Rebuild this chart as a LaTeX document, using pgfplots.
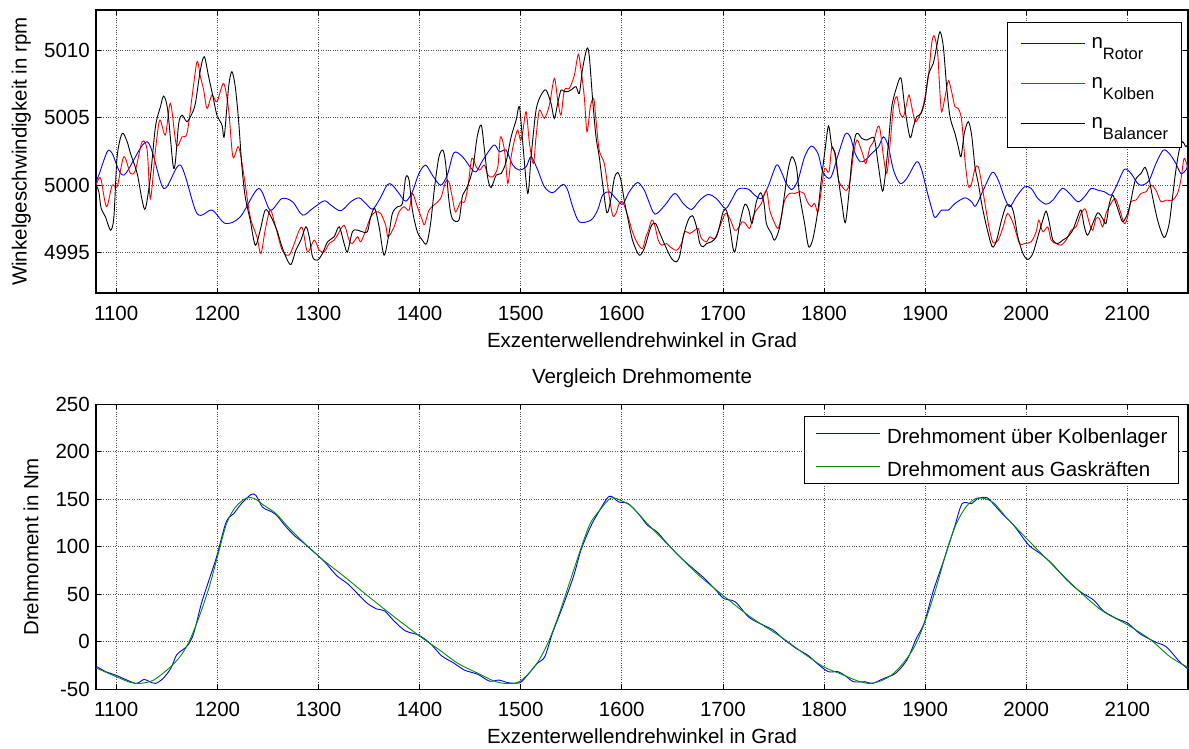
\documentclass[border=0pt]{standalone}
\usepackage{fontspec}
\setmainfont{Liberation Sans}
\usepackage{pgfplots}
\pgfplotsset{compat=1.18}
\definecolor{mblue}{rgb}{0,0,1}
\definecolor{mred}{rgb}{1,0,0}
\definecolor{mgreen}{rgb}{0,0.55,0}
\newcommand{\mf}{\fontsize{20.5bp}{24bp}\selectfont}
\newcommand{\sub}[1]{\raisebox{-11bp}{\fontsize{16.5bp}{18bp}\selectfont #1}}
\pgfplotsset{
  mstyle/.style={
    scale only axis, width=1092bp,
    xmin=1080, xmax=2160,
    xtick={1100,1200,...,2100},
    tick align=inside, tick pos=both, major tick length=5bp,
    grid=major,
    grid style={dotted, black!70, line width=0.7bp},
    axis line style={line width=1.3bp},
    every tick/.style={black, line width=0.8bp},
    tick label style={font=\mf, inner sep=0pt},
    label style={font=\mf, inner sep=0pt},
    title style={font=\mf, inner sep=0pt},
    /pgf/number format/assume math mode=true,
    /pgf/number format/1000 sep={},
    xticklabel style={anchor=base, yshift=-27.7bp},
    yticklabel style={anchor=east, xshift=-6bp},
    legend cell align=left,
    legend image code/.code={},
  },
}
\begin{document}
\begin{tikzpicture}
\useasboundingbox (0,0) rectangle (1189bp,749bp);
\begin{axis}[mstyle,
  at={(96bp,456bp)}, anchor=south west, height=283bp,
  ymin=4992, ymax=5013, ytick={4995,5000,5005,5010},
  xlabel={Exzenterwellendrehwinkel in Grad},
  xlabel style={at={(axis description cs:0.5,-0.19187)}, anchor=base},
  ylabel={Winkelgeschwindigkeit in rpm},
  ylabel style={at={(axis description cs:-0.06346,0.5)}, anchor=base, rotate=0},
  legend style={at={(axis description cs:0.99423,0.95866)}, anchor=north east,
    draw=black, line width=1.2bp, fill=white, inner xsep=13bp, inner ysep=6.6bp,
    row sep=8.2bp, column sep=0pt, font=\mf,
    nodes={inner sep=0pt, text height=20bp, text depth=11.8bp}},
]
\addplot[color=mblue, line width=0.9bp, smooth, tension=0.5] coordinates {
(1080,5000.3) (1082.8,5000.75) (1091.1,5002.48) (1096.0,5002.36) (1107.5,5000.75)
(1130.6,5003.22) (1147.0,4999.76) (1163.5,5001.49) (1179.9,4997.90) (1194.7,4998.15)
(1207.9,4997.16) (1222.7,4997.65) (1240.8,4999.76) (1252.3,4998.15) (1263.8,4999.01)
(1274.4,4998.77) (1284.3,4997.78) (1294.2,4998.27) (1305.7,4998.84)
(1312.3,4998.52) (1322.1,4998.10) (1332.0,4998.77) (1340.2,4999.06) (1346.8,4998.64)
(1353.4,4998.22) (1360.0,4998.89) (1368.2,5000.05) (1373.1,5000.00) (1379.7,4999.39)
(1386.3,4998.81) (1392.9,4999.51) (1399.4,5000.87) (1406.0,5001.49) (1412.6,5000.75)
(1420.8,5000.00) (1427.4,5000.75) (1434.0,5002.41) (1442.5,5002.11)
(1451.1,5001.24) (1456.0,5000.99) (1462.6,5001.86) (1473.5,5002.98) (1479.0,5002.48)
(1485.6,5002.60) (1492.2,5001.49) (1498.8,5001.12) (1505.4,5001.37) (1510.3,5002.11)
(1516.9,5001.12) (1523.5,4999.88) (1531.7,4999.44) (1541.6,5000.05) (1546.5,4999.63)
(1551.4,4998.40) (1558.0,4997.28) (1569.5,4997.41) (1576.1,4998.15) (1581.0,4999.26)
(1587.6,4999.51) (1594.2,4999.01) (1600.8,4998.59) (1607.4,4999.51) (1615.6,5000.20)
(1622.2,4999.63) (1626.2,4998.89) (1632.8,4997.85) (1642.7,4998.52) (1652.5,4999.39)
(1660.7,4998.64) (1669.0,4998.20) (1677.2,4998.89) (1685.4,4999.31) (1693.6,4999.01)
(1702.5,4998.27) (1708.5,4998.89) (1715.0,4999.71) (1724.9,4999.71) (1731.5,4999.26)
(1738.1,4999.01) (1744.6,4999.88) (1752.9,5001.49) (1757.8,5000.99) (1762.7,5000.13)
(1768.3,4999.68) (1774.3,5000.38) (1780.8,5002.11) (1787.4,5002.90) (1794.0,5002.36)
(1798.9,5000.99) (1806.5,5000.55) (1814.4,5002.36) (1821.0,5003.79)
(1825.9,5003.59) (1830.8,5002.36) (1835.8,5001.74) (1840.7,5001.86) (1847.3,5002.36)
(1853.9,5002.85) (1858.8,5003.59) (1863.7,5002.85) (1868.7,5001.12) (1875.2,5000.13)
(1881.8,5000.50) (1891.7,5001.74) (1896.6,5001.12) (1901.6,4999.63) (1906.5,4998.27)
(1909.8,4997.60) (1916.4,4998.15) (1923.0,4998.15) (1929.5,4998.64) (1939.4,4999.06)
(1946.0,4998.77) (1949.9,4998.45) (1957.5,4999.63) (1966.4,5000.95) (1972.3,5000.38)
(1978.9,4999.01) (1983.8,4998.40) (1990.1,4999.13) (1998.3,4999.88) (2004.9,4999.76)
(2011.5,4999.01) (2019.7,4998.59) (2026.3,4998.89) (2035.5,4999.76) (2042.7,4999.39)
(2051.0,4998.77) (2057.5,4999.13) (2064.1,4999.76) (2070.7,4999.63) (2077.3,4999.51)
(2083.8,4999.26) (2088.8,4999.88) (2097.0,5001.17) (2103.6,5000.87) (2110.2,5000.13)
(2115.1,5000.00) (2121.7,5000.38) (2128.3,5001.61) (2135.5,5002.60) (2141.4,5002.36)
(2148.0,5001.61) (2152.9,5000.87) (2157.9,5001.12) (2160.2,5001.61)
};
\addlegendentry{\hspace*{71bp}n\sub{Rotor}}
\addplot[color=mred, line width=0.9bp, smooth, tension=0.5] coordinates {
(1080,5000.0) (1082.8,5000.50) (1085.1,5000.38) (1090.4,4998.40) (1096.0,5000.00)
(1100.9,4999.88) (1107.5,5002.11) (1114.1,5000.87) (1119.0,5001.12) (1125.6,5003.22)
(1130.6,5002.60) (1133.8,4999.01) (1138.8,5002.60) (1143.1,5004.83) (1148.6,5003.72)
(1153.6,5006.07) (1159.5,5002.98) (1165.1,5003.59) (1170.0,5003.84) (1175.0,5006.56)
(1179.9,5009.16) (1183.2,5008.05) (1186.5,5007.06) (1189.8,5005.70) (1194.7,5006.69)
(1199.6,5006.19) (1206.2,5007.55) (1211.2,5005.57) (1215.4,5002.11) (1221.0,5002.85)
(1226.0,5000.87) (1232.5,4997.65) (1239.1,4996.17) (1243.1,4994.93) (1247.3,4996.66)
(1252.3,4998.15) (1257.2,4997.03) (1262.9,4995.43) (1266.2,4994.93) (1271.1,4994.81)
(1276.1,4995.67) (1281.0,4996.66) (1284.3,4996.79) (1289.2,4995.05) (1295.8,4995.92)
(1300.7,4995.18) (1305.7,4995.05) (1310.6,4995.67) (1315.5,4995.92) (1318.8,4996.29)
(1325.4,4997.03) (1330.3,4995.92) (1333.6,4995.67) (1338.6,4996.17) (1341.9,4995.80)
(1346.8,4996.66) (1351.7,4997.65) (1356.7,4998.02) (1361.6,4997.90) (1366.5,4997.03)
(1368.8,4996.17) (1374.8,4996.91) (1379.7,4998.02) (1384.6,4998.40) (1389.6,4998.15)
(1392.9,4999.39) (1397.8,4998.40) (1402.7,4997.41) (1405.0,4997.08) (1409.3,4998.15)
(1414.2,4998.52) (1420.8,4999.01) (1425.8,5000.25) (1429.0,5000.25) (1432.3,4999.13)
(1435.6,4998.02) (1440.6,4998.77) (1444.5,4998.77) (1447.8,4999.88) (1451.7,5001.99)
(1456.0,5001.37) (1459.3,5001.12) (1464.2,5001.49) (1467.5,5000.75) (1472.5,5000.62)
(1477.4,5001.37) (1480.0,5003.59) (1484.0,5002.60) (1487.3,5000.13) (1490.6,5002.11)
(1493.9,5003.35) (1497.1,5004.09) (1499.8,5003.35) (1502.1,5003.97) (1505.4,5005.45)
(1508.7,5003.10) (1512.6,5001.61) (1515.2,5003.59) (1518.5,5005.57) (1523.5,5004.96)
(1528.4,5005.95) (1533.3,5007.93) (1536.6,5006.32) (1539.9,5005.20) (1543.2,5007.06)
(1548.1,5007.18) (1553.1,5008.17) (1557.0,5009.71) (1559.7,5008.54) (1562.9,5006.56)
(1565.6,5003.97) (1568.9,5005.82) (1572.2,5006.44) (1574.5,5004.83) (1577.7,5002.60)
(1582.7,5001.61) (1586.6,4999.63) (1590.9,4997.78) (1594.2,4997.90) (1597.5,4998.64)
(1600.8,4998.77) (1605.7,4997.78) (1610.6,4996.54) (1615.6,4995.67) (1620.5,4995.30)
(1623.8,4996.17) (1626.2,4996.6) (1629.5,4997.41) (1632.1,4997.16) (1636.1,4995.92)
(1639.4,4995.55) (1644.3,4995.67) (1647.6,4995.43) (1654.2,4995.18) (1659.1,4995.67)
(1662.4,4996.54) (1667.3,4996.42) (1672.3,4996.66) (1675.6,4996.79) (1678.8,4996.04)
(1683.8,4995.80) (1687.1,4996.17) (1692.0,4996.04) (1696.9,4996.91) (1702.5,4997.90)
(1706.8,4997.53) (1711.7,4996.66) (1715.0,4996.79) (1719.0,4997.28) (1722.3,4997.16)
(1726.5,4996.79) (1729.8,4997.65) (1733.1,4998.15) (1738.1,4998.64) (1743.0,4999.63)
(1746.3,4998.15) (1750.6,4997.28) (1754.5,4996.79) (1757.8,4997.65) (1761.1,4998.89)
(1766.0,4999.39) (1771.0,4999.39) (1775.9,4999.51) (1780.2,4999.39) (1783.5,4998.77)
(1787.4,4998.40) (1790.7,4998.64) (1794.0,4998.02) (1797.3,4999.63) (1800.6,5001.24)
(1804.9,5000.99) (1807.8,5002.85) (1811.1,5002.11) (1814.4,5000.38) (1819.3,4999.76)
(1822.6,4999.63) (1825.9,5000.38) (1829.2,5002.36) (1832.5,5003.35) (1835.8,5002.85)
(1839.1,5002.11) (1841.4,5001.61) (1845.6,5002.85) (1848.9,5003.22) (1853.2,5004.34)
(1855.5,5004.09) (1858.8,5002.11) (1862.1,5000.87) (1865.4,5003.10) (1868.7,5005.82)
(1872.0,5006.56) (1875.2,5005.33) (1878.5,5005.08) (1881.8,5006.07) (1884.1,5006.69)
(1886.8,5005.82) (1890.1,5004.71) (1894.0,5005.08) (1898.3,5005.95) (1903.2,5008.05)
(1906.5,5010.52) (1909.1,5011.07) (1912.4,5009.78) (1914.7,5006.81) (1916.4,5005.45)
(1919.7,5006.56) (1923.0,5007.75) (1926.2,5006.94) (1929.5,5005.82) (1932.8,5005.70)
(1936.1,5004.83) (1939.4,5001.86) (1942.7,4999.93) (1946.0,5000.13) (1949.3,5001.24)
(1952.6,5001.37) (1955.9,5000.13) (1960.8,4997.90) (1964.1,4996.54) (1967.4,4995.72)
(1972.3,4995.92) (1977.2,4996.91) (1981.5,4997.90) (1987.1,4997.16) (1993.4,4995.67)
(1998.3,4995.67) (2004.9,4995.80) (2009.8,4996.54) (2012.5,4997.41) (2016.4,4996.54)
(2021.3,4996.91) (2024.6,4995.92) (2029.6,4995.67) (2034.5,4995.55) (2039.4,4995.92)
(2044.4,4996.66) (2049.3,4996.91) (2054.2,4997.90) (2058.5,4998.22) (2062.5,4997.16)
(2065.8,4996.66) (2069.0,4997.53) (2072.3,4997.53) (2075.6,4996.91) (2078.9,4997.90)
(2083.8,4998.64) (2088.1,4999.01) (2092.1,4998.27) (2097.0,4997.16) (2100.3,4997.65)
(2103.6,4998.77) (2108.5,4998.89) (2113.5,4999.39) (2118.4,4999.51) (2123.3,5000.00)
(2128.3,4999.63) (2133.2,4998.77) (2138.1,4998.89) (2144.7,4998.89) (2149.6,4999.39)
(2152.9,5000.38) (2156.2,5001.99) (2160.2,5001.12)
};
\addlegendentry{\hspace*{71bp}n\sub{Kolben}}
\addplot[color=black, line width=0.9bp, smooth, tension=0.5] coordinates {
(1080,5000.0) (1082.8,4999.51) (1085.1,4998.27) (1089.4,4997.65) (1094.4,4996.66)
(1097.7,4997.65) (1100.9,5002.11) (1105.9,5003.84) (1110.8,5003.22) (1114.1,5002.36)
(1120.7,5000.87) (1125.6,4998.89) (1128.9,4998.27) (1133.8,5000.62) (1138.8,5004.34)
(1143.7,5005.82) (1147.0,5006.61) (1150.9,5005.57) (1156.2,5001.49) (1158.5,5001.74)
(1161.8,5004.58) (1165.1,5005.20) (1170.0,5004.71) (1175.0,5005.33) (1178.3,5006.07)
(1183.2,5008.54) (1187.1,5009.53) (1191.4,5008.05) (1196.4,5006.32) (1199.6,5005.20)
(1204.6,5004.46) (1206.9,5003.64) (1211.2,5007.31) (1214.4,5008.42) (1217.7,5007.31)
(1221.0,5004.83) (1224.3,5001.37) (1227.6,4999.13) (1232.5,4997.41) (1237.5,4995.55)
(1242.4,4996.66) (1247.3,4998.15) (1252.3,4997.78) (1258.9,4996.66) (1262.9,4995.67)
(1267.8,4994.68) (1272.8,4994.11) (1277.7,4995.18) (1282.6,4995.92) (1287.6,4996.91)
(1290.9,4996.17) (1294.2,4994.68) (1299.1,4994.44) (1304.0,4994.93) (1309.0,4995.80)
(1315.5,4996.17) (1320.5,4996.91) (1325.4,4995.67) (1328.7,4995.05) (1333.6,4996.54)
(1338.6,4996.66) (1343.5,4996.54) (1348.4,4996.54) (1351.7,4997.65) (1355.7,4998.27)
(1360.0,4996.91) (1364.9,4994.81) (1369.8,4996.42) (1373.1,4997.90) (1378.1,4998.40)
(1383.0,4998.64) (1386.3,5000.57) (1389.6,5000.38) (1392.9,4998.15) (1397.8,4996.54)
(1402.7,4995.92) (1407.0,4995.67) (1410.9,4997.16) (1414.9,4999.88) (1419.2,5002.11)
(1423.1,5002.60) (1425.8,5001.61) (1429.0,4998.89) (1432.3,4997.53) (1438.9,4997.41)
(1442.2,4999.13) (1444.5,4999.51) (1447.8,5000.00) (1452.7,5001.24) (1457.0,5003.59)
(1461.0,5004.46) (1464.2,5002.60) (1467.5,5000.50) (1470.8,4999.83) (1475.8,5000.75)
(1480.7,5000.87) (1485.6,5001.74) (1490.6,5003.59) (1495.5,5004.83) (1498.8,5005.82)
(1502.1,5003.10) (1507.0,4999.39) (1510.3,5002.11) (1515.2,5005.57) (1520.2,5006.69)
(1525.1,5007.06) (1530.0,5006.07) (1533.3,5004.96) (1536.6,5006.07) (1539.9,5007.06)
(1543.2,5006.94) (1546.5,5006.94) (1549.8,5007.06) (1554.7,5007.31) (1558.0,5006.81)
(1561.3,5008.67) (1565.6,5010.15) (1567.9,5009.53) (1571.2,5006.32) (1574.5,5003.59)
(1577.7,5002.11) (1581.0,5000.13) (1585.3,4997.95) (1589.3,4999.01) (1592.6,5000.50)
(1595.8,5000.95) (1599.1,5000.38) (1602.4,4998.89) (1605.7,4997.65) (1610.6,4995.92)
(1617.2,4994.81) (1622.2,4995.30) (1626.2,4996.29) (1629.5,4997.03) (1633.4,4997.16)
(1637.7,4996.42) (1642.7,4995.55) (1649.2,4994.56) (1654.2,4994.31) (1657.5,4994.81)
(1660.7,4996.17) (1665.7,4997.41) (1670.0,4997.73) (1673.9,4996.91) (1677.2,4995.67)
(1680.5,4995.43) (1683.8,4995.67) (1688.7,4995.80) (1693.6,4996.17) (1696.9,4997.03)
(1700.2,4998.02) (1703.5,4998.15) (1706.8,4996.91) (1710.1,4995.30) (1712.4,4995.18)
(1716.7,4997.16) (1721.6,4998.57) (1725.6,4998.15) (1728.8,4997.16) (1733.1,4998.77)
(1737.4,4999.44) (1740.7,4998.64) (1743.0,4997.16) (1747.9,4996.42) (1751.2,4995.92)
(1756.2,4996.91) (1761.1,4999.39) (1764.4,5001.12) (1768.3,5002.11) (1772.6,5001.37)
(1775.9,4999.26) (1780.8,4997.16) (1784.8,4995.43) (1789.1,4996.04) (1794.0,4998.15)
(1797.3,5000.38) (1801.2,5002.73) (1804.5,5004.39) (1807.8,5002.85) (1811.1,5002.36)
(1814.4,5000.38) (1817.7,4998.64) (1821.0,4997.21) (1824.3,4999.13) (1827.5,5001.86)
(1830.8,5003.59) (1833.5,5003.84) (1837.4,5003.47) (1842.3,5003.35) (1845.6,5003.47)
(1849.9,5003.42) (1853.9,5001.37) (1857.8,4999.56) (1860.4,5000.62) (1863.7,5003.10)
(1867.0,5005.82) (1872.0,5007.31) (1876.2,5007.93) (1880.2,5005.57) (1885.1,5003.54)
(1888.4,5004.34) (1891.7,5005.08) (1896.0,5005.33) (1899.9,5006.32) (1903.2,5008.17)
(1908.1,5009.04) (1911.4,5010.28) (1914.7,5011.39) (1918.0,5010.28) (1921.3,5007.31)
(1924.6,5005.08) (1929.5,5003.84) (1932.8,5002.85) (1935.5,5002.11) (1938.7,5003.84)
(1942.7,5004.71) (1946.0,5003.72) (1949.3,5001.37) (1952.6,5000.13) (1955.9,4998.64)
(1960.8,4996.91) (1966.4,4995.43) (1970.7,4995.92) (1975.6,4997.41) (1980.5,4998.52)
(1985.5,4998.40) (1988.4,4997.65) (1991.7,4996.17) (1996.7,4994.93) (2001.6,4994.49)
(2006.5,4994.93) (2011.5,4996.17) (2016.4,4997.41) (2019.7,4998.07) (2023.0,4997.16)
(2026.3,4995.92) (2031.2,4995.67) (2036.1,4995.92) (2041.1,4996.17) (2046.0,4996.66)
(2050.9,4997.65) (2054.2,4998.15) (2057.5,4996.91) (2060.8,4996.29) (2065.8,4997.16)
(2070.7,4997.95) (2075.6,4997.53) (2078.9,4997.16) (2082.2,4998.64) (2085.5,4999.26)
(2088.8,4998.64) (2092.1,4997.90) (2095.4,4997.28) (2100.3,4997.90) (2103.6,4998.89)
(2107.9,5000.38) (2113.5,5000.87) (2117.7,5001.32) (2121.7,5000.38) (2124.9,4999.13)
(2129.9,4997.41) (2134.8,4996.29) (2137.5,4996.17) (2141.4,4997.16) (2144.7,4999.13)
(2148.0,5001.12) (2151.3,5002.60) (2154.6,5003.22) (2157.9,5002.85) (2160.2,5003.10)
};
\addlegendentry{\hspace*{71bp}n\sub{Balancer}}
\end{axis}

\begin{axis}[mstyle,
  at={(96bp,59.7bp)}, anchor=south west, height=285bp,
  ymin=-50, ymax=250, ytick={-50,0,50,100,150,200,250},
  title={Vergleich Drehmomente},
  title style={at={(axis description cs:0.5,1)}, anchor=base, yshift=15.3bp},
  xlabel={Exzenterwellendrehwinkel in Grad},
  xlabel style={at={(axis description cs:0.5,-0.19053)}, anchor=base},
  ylabel={Drehmoment in Nm},
  ylabel style={at={(axis description cs:-0.05284,0.5)}, anchor=base, rotate=0},
  legend style={at={(axis description cs:0.99176,0.95895)}, anchor=north east,
    draw=black, line width=1.2bp, fill=white, inner xsep=11bp, inner ysep=6.7bp,
    row sep=13.3bp, column sep=0pt, font=\mf,
    nodes={inner sep=0pt, text height=20bp, text depth=0bp}},
]
\addplot[color=mblue, line width=0.9bp, smooth, tension=0.5] coordinates {
(1080,-25.8) (1081,-26.3) (1089.8,-31.5) (1099.2,-35) (1110.6,-40.3) (1120,-43.8)
(1127.5,-39.6) (1133.2,-42) (1138.9,-43.8) (1146.4,-38.5) (1154,-28) (1159.6,-14)
(1165.3,-8.8) (1170.9,-3.5) (1176.6,8.7) (1184.2,40.2) (1191.7,64.8) (1199.2,89.2)
(1208.7,126) (1216.2,134.9) (1223.8,145.4) (1233.2,154.9) (1238.1,154.2) (1244.5,141.9)
(1250.2,138.5) (1257.7,134.2) (1267.2,121.9) (1276.6,111.4) (1284.2,105.1) (1299.2,91.1)
(1306.8,83.4) (1318.1,69.6) (1329.4,60.6) (1340.8,48.3) (1348.3,40.5) (1357.7,34.5)
(1365.3,32.6) (1374.7,22) (1386,11.5) (1399.2,7) (1410.6,-1.8) (1421.9,-14.8)
(1433.2,-22) (1444.5,-29.8) (1457.7,-34.3) (1469.1,-41.4) (1478.5,-40.3) (1488,-43.1)
(1499.2,-43.1) (1506.8,-35) (1516.2,-22.8) (1523.8,-15.8) (1531.3,8.7) (1540.8,35)
(1552.1,68.3) (1559.6,96.4) (1569,120.9) (1576.2,134.9) (1587.5,153.1) (1597,147.2)
(1606.4,145.4) (1617.7,133.2) (1625.3,122.7) (1634.7,115.7) (1647.9,99.9) (1659.2,87.6)
(1672.5,75.3) (1681.9,66.6) (1693.2,54.3) (1700.8,45.6) (1712.1,42.1) (1725.3,26.2)
(1736.6,19.3) (1749.8,12.3) (1759.2,3.5) (1772.5,-7) (1783.8,-14) (1795.1,-24.5)
(1804.5,-31.5) (1814,-31.5) (1821.5,-36.1) (1829.1,-42) (1840.4,-42) (1847.9,-43.8)
(1859.2,-38.5) (1870.6,-33.3) (1881.9,-19.3) (1891.3,3.5) (1898.9,19.3) (1908.3,54.3)
(1919.6,89.4) (1929.1,120.9) (1936.6,145.4) (1946,145.4) (1951.7,150.7) (1961.1,151.8)
(1968.7,143.7) (1976.2,134.9) (1987.5,122.7) (2002.6,101.7) (2013.9,92.9) (2025.3,82.4)
(2040.4,64.8) (2053.6,52.6) (2066.8,43.8) (2076.2,32.6) (2089.4,24.5) (2100.8,19.3)
(2112.1,8.7) (2127.2,0) (2138.5,-5.3) (2151.7,-21) (2160.4,-29)
};
\addlegendentry{\hspace*{71.6bp}Drehmoment über Kolbenlager}
\addplot[color=mgreen, line width=0.9bp, smooth, tension=0.5] coordinates {
(1080,-27.5) (1100,-36.7) (1114,-42.7) (1124,-43.8) (1137,-40.3) (1152,-28) (1163,-15.8)
(1172,0) (1182,26.2) (1192,57.8) (1200,89.2) (1209,124) (1218,141.9) (1229,151.4)
(1237,150.7) (1246,143.7) (1258,134.9) (1273,117.4) (1299,91.1) (1326,68.3) (1348,49)
(1375,26.2) (1401,5.3) (1420,-8.8) (1438,-22.8) (1458,-33.3) (1473,-41) (1484,-43.8)
(1496,-43.1) (1503,-38.5) (1515,-24.5) (1526,-3.5) (1537,26.2) (1548,61.2) (1560,99.7)
(1569,125) (1578.1,138.4) (1589.4,151.4) (1600.8,147.9) (1610.2,141.9) (1625.3,124.4)
(1647.9,99.9) (1674.3,71.9) (1700,49) (1727.2,26.2) (1757.4,5.2) (1780,-12.3)
(1799.6,-26.3) (1817.7,-34.3) (1832.8,-41) (1844.2,-43.8) (1855.5,-41.4) (1866.8,-35)
(1878.1,-22.8) (1889.4,-5.3) (1899.2,19.3) (1910.2,54.3) (1921.5,96.4) (1930.9,124.4)
(1940.4,141.9) (1949.8,150.7) (1959.2,150.7) (1968.7,145.4) (1980,131.3) (1998.9,110.3)
(2021.5,85.8) (2047.9,57.8) (2074.3,33.3) (2100.8,17.5) (2123.4,1.8) (2142.3,-15.8)
(2160.4,-27.3)
};
\addlegendentry{\hspace*{71.6bp}Drehmoment aus Gaskräften}
\end{axis}
% legend sample lines, drawn over the legend boxes
\draw[color=mblue, line width=0.9bp] (1020.7bp,705.7bp) -- (1085bp,705.7bp);
\draw[color=mred, line width=0.9bp] (1020.7bp,665.7bp) -- (1085bp,665.7bp);
\draw[color=black, line width=0.9bp] (1020.7bp,625.7bp) -- (1085bp,625.7bp);
\draw[color=mblue, line width=0.9bp] (816.4bp,315.7bp) -- (880.4bp,315.7bp);
\draw[color=mgreen, line width=0.9bp] (816.4bp,282.3bp) -- (880.4bp,282.3bp);
\end{tikzpicture}
\end{document}
